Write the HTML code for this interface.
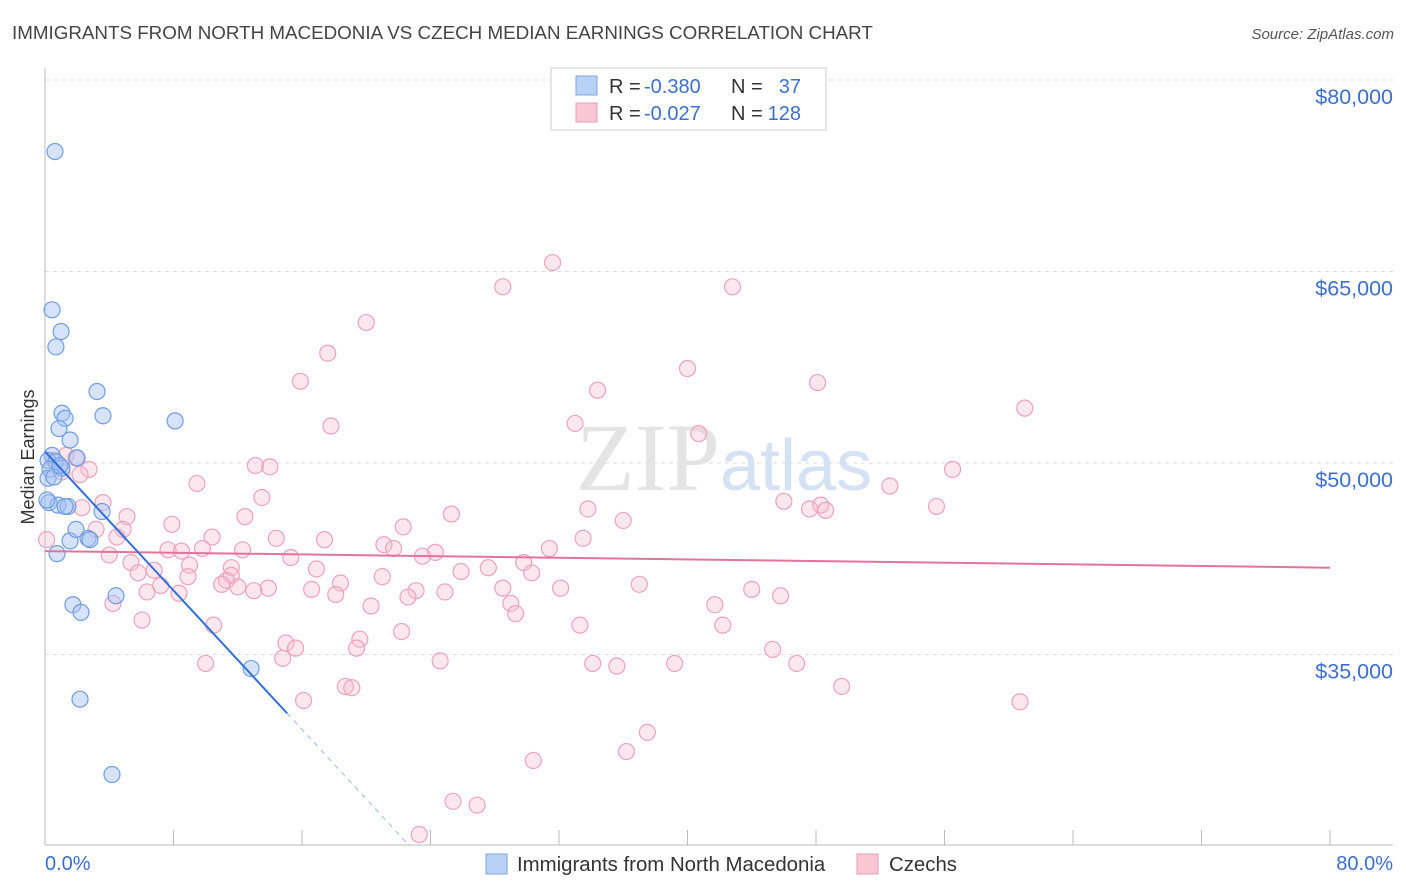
<!DOCTYPE html>
<html><head><meta charset="utf-8"><style>
body{margin:0;background:#fff;}
svg{display:block;font-family:"Liberation Sans",sans-serif;}
</style></head><body>
<svg id="chart" width="1406" height="892">
<text x="12" y="39" font-size="18.8" fill="#444">IMMIGRANTS FROM NORTH MACEDONIA VS CZECH MEDIAN EARNINGS CORRELATION CHART</text>
<text x="1394" y="39" font-size="15" fill="#555" font-style="italic" text-anchor="end">Source: ZipAtlas.com</text>
<text x="0" y="0" transform="translate(34,457) rotate(-90)" font-size="18" fill="#333" text-anchor="middle">Median Earnings</text>
<g id="grid"></g>
<text x="720" y="490" font-size="96" fill="#e4e4e4" font-family="Liberation Serif,serif" text-anchor="end">ZIP</text>
<text x="720" y="490" font-size="72" fill="#d5e2f3" text-anchor="start">atlas</text>
<g id="marks"></g>
<g>
<rect x="551" y="68" width="275" height="62" fill="#fff" stroke="#ccc"/>
<rect x="576" y="76" width="21" height="19" fill="#b8d1f5" stroke="#7ea6e0"/>
<rect x="576" y="103" width="21" height="19" fill="#f9c6d6" stroke="#e89ab4"/>
<text x="609" y="93" font-size="20" fill="#333">R =</text>
<text x="644" y="93" font-size="20" fill="#3d6fce">-0.380</text>
<text x="731" y="93" font-size="20" fill="#333">N =</text>
<text x="801" y="93" font-size="20" fill="#3d6fce" text-anchor="end">37</text>
<text x="609" y="120" font-size="20" fill="#333">R =</text>
<text x="644" y="120" font-size="20" fill="#3d6fce">-0.027</text>
<text x="731" y="120" font-size="20" fill="#333">N =</text>
<text x="801" y="120" font-size="20" fill="#3d6fce" text-anchor="end">128</text>
</g>
<g>
<rect x="486" y="854" width="21" height="20" fill="#b8d1f5" stroke="#7ea6e0"/>
<text x="517" y="871" font-size="20.4" fill="#333">Immigrants from North Macedonia</text>
<rect x="857" y="854" width="21" height="20" fill="#f9c6d6" stroke="#e89ab4"/>
<text x="889" y="871" font-size="20.4" fill="#333">Czechs</text>
</g>
<text x="45" y="870" font-size="20" fill="#3d6fce">0.0%</text>
<text x="1393" y="870" font-size="20" fill="#3d6fce" text-anchor="end">80.0%</text>
</svg>
<script>
const yTicks=[80000,65000,50000,35000];
const yTickLabels=["$80,000","$65,000","$50,000","$35,000"];
const xTicks=[0,8,16,24,32,40,48,56,64,72,80];
const blueX=[0.62,0.44,1.0,0.68,3.24,1.06,3.61,1.25,8.1,0.87,1.56,0.44,0.19,2.0,0.68,1.06,0.31,0.19,0.56,0.25,0.81,1.43,1.25,3.55,1.56,2.68,0.75,1.93,2.8,1.74,2.24,4.42,12.83,2.18,4.17,0.12,0.93];
const blueY=[74.4,62.0,60.3,59.1,55.6,53.9,53.7,53.5,53.3,52.7,51.8,50.6,50.2,50.4,50.1,49.6,49.5,48.8,48.9,46.9,46.7,46.6,46.6,46.2,43.9,44.1,42.9,44.8,44.0,38.9,38.3,39.6,33.9,31.5,25.6,47.1,49.8];
const pinkX=[31.6,28.5,42.8,20.0,17.6,40.0,15.9,48.1,34.4,61.0,33.0,17.8,40.7,0.56,1.31,1.93,2.74,1.06,2.18,13.1,14.0,56.5,52.6,9.46,13.5,3.61,46.0,48.3,48.6,47.6,55.5,33.8,25.3,12.45,5.1,2.3,7.9,36.0,22.3,3.18,4.86,10.4,14.4,17.4,33.5,4.48,21.1,21.7,24.3,31.4,12.3,7.66,8.5,9.8,15.3,4.0,23.5,5.35,29.8,9.0,25.9,27.6,16.9,6.8,5.8,11.6,30.3,21.0,11.6,11.3,8.9,11.0,7.2,18.4,12.0,13.9,16.6,6.35,8.34,13.0,23.1,24.9,28.5,32.1,37.0,44.0,18.1,22.6,45.8,29.0,20.3,41.7,4.23,29.3,6.04,10.5,33.3,42.2,22.2,15.0,15.6,19.6,19.4,45.3,14.8,10.0,24.6,34.1,35.6,39.2,46.8,18.7,19.1,49.6,60.7,16.1,37.5,36.2,30.4,25.4,26.9,23.3,0.1];
const pinkY=[65.7,63.8,63.8,61.0,58.6,57.4,56.4,56.3,55.7,54.3,53.1,52.9,52.3,50.2,50.6,50.4,49.5,49.3,49.1,49.8,49.7,49.5,48.2,48.4,47.3,46.9,47.0,46.7,46.3,46.4,46.6,46.4,46.0,45.8,45.8,46.5,45.2,45.5,45.0,44.8,44.8,44.2,44.1,44.0,44.1,44.2,43.6,43.3,43.0,43.3,43.2,43.2,43.1,43.3,42.6,42.8,42.7,42.2,42.2,42.0,41.5,41.8,41.7,41.6,41.4,41.8,41.4,41.1,41.2,40.8,41.1,40.5,40.4,40.6,40.3,40.2,40.1,39.9,39.8,40.0,40.0,39.9,40.2,40.2,40.5,40.1,39.7,39.5,39.6,39.0,38.8,38.9,39.0,38.2,37.7,37.3,37.3,37.3,36.8,35.9,35.5,36.2,35.5,35.4,34.7,34.3,34.5,34.3,34.1,34.3,34.3,32.5,32.4,32.5,31.3,31.4,28.9,27.4,26.7,23.5,23.2,20.9,44.0];
const blueTrend=[[0,50.9],[15.07,30.4],[22.7,20.0]];
const pinkTrend=[[0,43.1],[80,41.8]];
const NS="http://www.w3.org/2000/svg";
const X=p=>45+p*(1285/80);
const Y=k=>80+(80-k)*12.767;
function mk(tag,attrs,parent){const e=document.createElementNS(NS,tag);for(const k in attrs)e.setAttribute(k,attrs[k]);parent.appendChild(e);return e;}
const grid=document.getElementById('grid'),marks=document.getElementById('marks');
yTicks.forEach((v,i)=>{const y=Y(v/1000);
 let l=mk('line',{x1:45,x2:1393,y1:y,y2:y,stroke:'#ddd','stroke-dasharray':'4,4'},grid);
 
 
 let t=mk('text',{x:1393,y:y+24,'font-size':21.5,fill:'#3d6fce','text-anchor':'end'},grid);t.textContent=yTickLabels[i];
 
 
});
let ax=mk('line',{x1:45,x2:45,y1:68,y2:845,stroke:'#bbb'},grid);


let bx=mk('line',{x1:45,x2:1393,y1:845,y2:845,stroke:'#bbb'},grid);


xTicks.forEach(p=>{let t=mk('line',{x1:X(p),x2:X(p),y1:830,y2:845,stroke:'#bbb'},grid);
 
 });
pinkX.forEach((x,i)=>{let c=mk('circle',{cx:X(x),cy:Y(pinkY[i]),r:8,fill:'rgba(248,187,208,0.35)',stroke:'#eba2bb','stroke-width':1.2},marks);
 
 });
blueX.forEach((x,i)=>{let c=mk('circle',{cx:X(x),cy:Y(blueY[i]),r:8,fill:'rgba(164,194,244,0.45)',stroke:'#6f9de0','stroke-width':1.2},marks);
 
 });
let pl=mk('line',{x1:X(pinkTrend[0][0]),y1:Y(pinkTrend[0][1]),x2:X(pinkTrend[1][0]),y2:Y(pinkTrend[1][1]),stroke:'#e3739b','stroke-width':2},marks);


let bl=mk('line',{x1:X(blueTrend[0][0]),y1:Y(blueTrend[0][1]),x2:X(blueTrend[1][0]),y2:Y(blueTrend[1][1]),stroke:'#2f6fd6','stroke-width':2},marks);


let bd=mk('line',{x1:X(blueTrend[1][0]),y1:Y(blueTrend[1][1]),x2:X(blueTrend[2][0]),y2:Y(blueTrend[2][1]),stroke:'#9bb8e6','stroke-width':1,'stroke-dasharray':'5,5'},marks);


</script>
</body></html>
